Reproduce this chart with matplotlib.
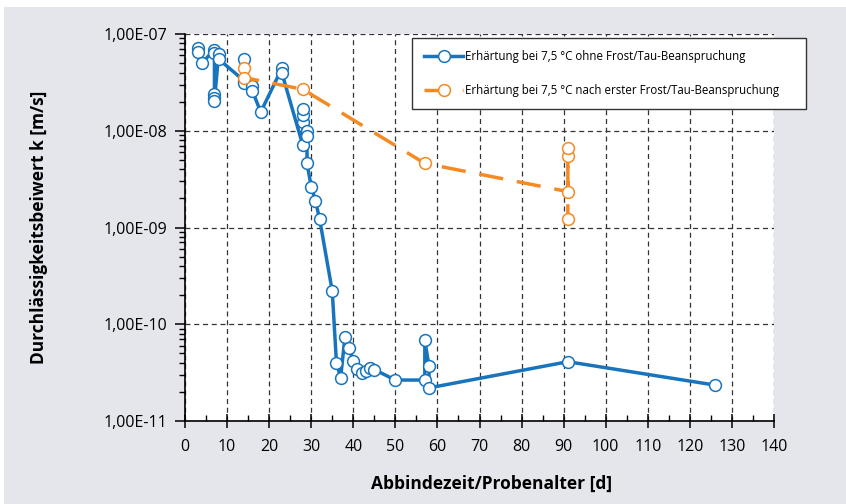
import matplotlib
matplotlib.use("Agg")
import matplotlib.pyplot as plt
from matplotlib.patches import Rectangle
from matplotlib.ticker import FixedLocator, FuncFormatter, LogLocator, NullFormatter

plt.rcParams["font.family"] = ["Open Sans", "DejaVu Sans"]

# Erhärtung bei 7,5 °C ohne Frost/Tau-Beanspruchung
blue_x = [3, 3, 4, 7, 7, 7, 7, 7, 8, 8, 14, 14, 14, 16, 16, 18, 23, 23,
          28, 28, 28, 28, 29, 29, 29, 30, 31, 32, 35, 36, 37, 38, 39, 40,
          41, 42, 43, 44, 45, 50, 57, 57, 58, 58, 91, 126]
blue_k = [7.1e-8, 6.5e-8, 5.0e-8, 6.9e-8, 6.3e-8, 2.4e-8, 2.2e-8, 2.05e-8,
          6.2e-8, 5.5e-8, 3.3e-8, 5.5e-8, 3.1e-8, 2.9e-8, 2.6e-8, 1.56e-8,
          4.4e-8, 4.0e-8, 7.1e-9, 1.24e-8, 1.45e-8, 1.67e-8, 1.0e-8, 8.8e-9,
          4.6e-9, 2.65e-9, 1.9e-9, 1.22e-9, 2.2e-10, 4.0e-11, 2.8e-11,
          7.3e-11, 5.7e-11, 4.2e-11, 3.45e-11, 3.15e-11, 3.3e-11, 3.5e-11,
          3.4e-11, 2.65e-11, 2.65e-11, 6.8e-11, 3.7e-11, 2.2e-11, 4.1e-11,
          2.35e-11]

# Erhärtung bei 7,5 °C nach erster Frost/Tau-Beanspruchung
orange_x = [14, 14, 28, 57, 91, 91, 91, 91]
orange_k = [4.4e-8, 3.55e-8, 2.68e-8, 4.6e-9, 2.35e-9, 5.5e-9, 6.7e-9, 1.22e-9]

label_blue = "Erhärtung bei 7,5 °C ohne Frost/Tau-Beanspruchung"
label_orange = "Erhärtung bei 7,5 °C nach erster Frost/Tau-Beanspruchung"
x_ticks = list(range(0, 141, 10))
y_ticks = [1e-11, 1e-10, 1e-9, 1e-8, 1e-7]

BLUE = "#1874bd"
ORANGE = "#f58a24"
W, H = 846, 504

fig = plt.figure(figsize=(W / 100, H / 100), dpi=100, facecolor="white")
fig.patches.append(Rectangle((4 / W, 0), 1, 1 - 7 / H, transform=fig.transFigure,
                             facecolor="#e5e6eb", edgecolor="none", zorder=-10))

ax = fig.add_axes([185 / W, 1 - 421 / H, (774 - 185) / W, (421 - 34) / H])
ax.set_facecolor("white")

ax.plot(blue_x, blue_k, color=BLUE, lw=2.5, marker="o", ms=8.5,
        mfc="white", mec=BLUE, mew=1.1, label=label_blue, zorder=3)
ax.plot(orange_x, orange_k, color=ORANGE, lw=2.5, marker="o", ms=8.5,
        mfc="white", mec=ORANGE, mew=1.1, dashes=(7, 4), label=label_orange, zorder=3)

ax.set_yscale("log")
ax.set_xlim(0, 140)
ax.set_ylim(1e-11, 1e-7)

ax.xaxis.set_major_locator(FixedLocator(x_ticks))
ax.xaxis.set_minor_locator(FixedLocator(list(range(5, 140, 10))))
ax.yaxis.set_major_locator(FixedLocator(y_ticks))
ax.yaxis.set_minor_locator(LogLocator(base=10, subs=range(2, 10)))
ax.yaxis.set_minor_formatter(NullFormatter())
ax.yaxis.set_major_formatter(FuncFormatter(lambda v, p: ("%.2E" % v).replace(".", ",")))

ax.grid(True, which="major", color="#333333", lw=0.9, ls=(0, (4, 3)))
ax.set_axisbelow(True)

for s in ["top", "right"]:
    ax.spines[s].set_visible(False)
for s in ["left", "bottom"]:
    ax.spines[s].set_color("black")
    ax.spines[s].set_linewidth(1.2)

ax.tick_params(axis="x", which="major", direction="inout", length=10, width=1.1,
               labelsize=11.5, pad=8)
ax.tick_params(axis="x", which="minor", direction="in", length=4, width=1)
ax.tick_params(axis="y", which="major", direction="out", length=7, width=1.1,
               labelsize=11.5, pad=6)
ax.tick_params(axis="y", which="minor", direction="out", length=4, width=1)

ax.set_xlabel("Abbindezeit/Probenalter [d]", fontsize=12.5, fontweight="bold")
ax.set_ylabel("Durchlässigkeitsbeiwert k [m/s]", fontsize=12.5, fontweight="bold")
ax.xaxis.set_label_coords(0.52, -0.138)
ax.yaxis.set_label_coords(-0.232, 0.5)

leg = ax.legend(loc="upper left", mode="expand",
                bbox_to_anchor=(412 / W, 1 - 113 / H, (806 - 412) / W, (113 - 38) / H),
                bbox_transform=fig.transFigure, fontsize=8.3, frameon=True,
                fancybox=False, framealpha=1, edgecolor="#333333",
                handlelength=3.4, handletextpad=0.15, borderpad=1.05,
                labelspacing=1.8, borderaxespad=0)
leg.get_frame().set_linewidth(1.0)

fig.savefig("out.png", dpi=100, facecolor=fig.get_facecolor())
